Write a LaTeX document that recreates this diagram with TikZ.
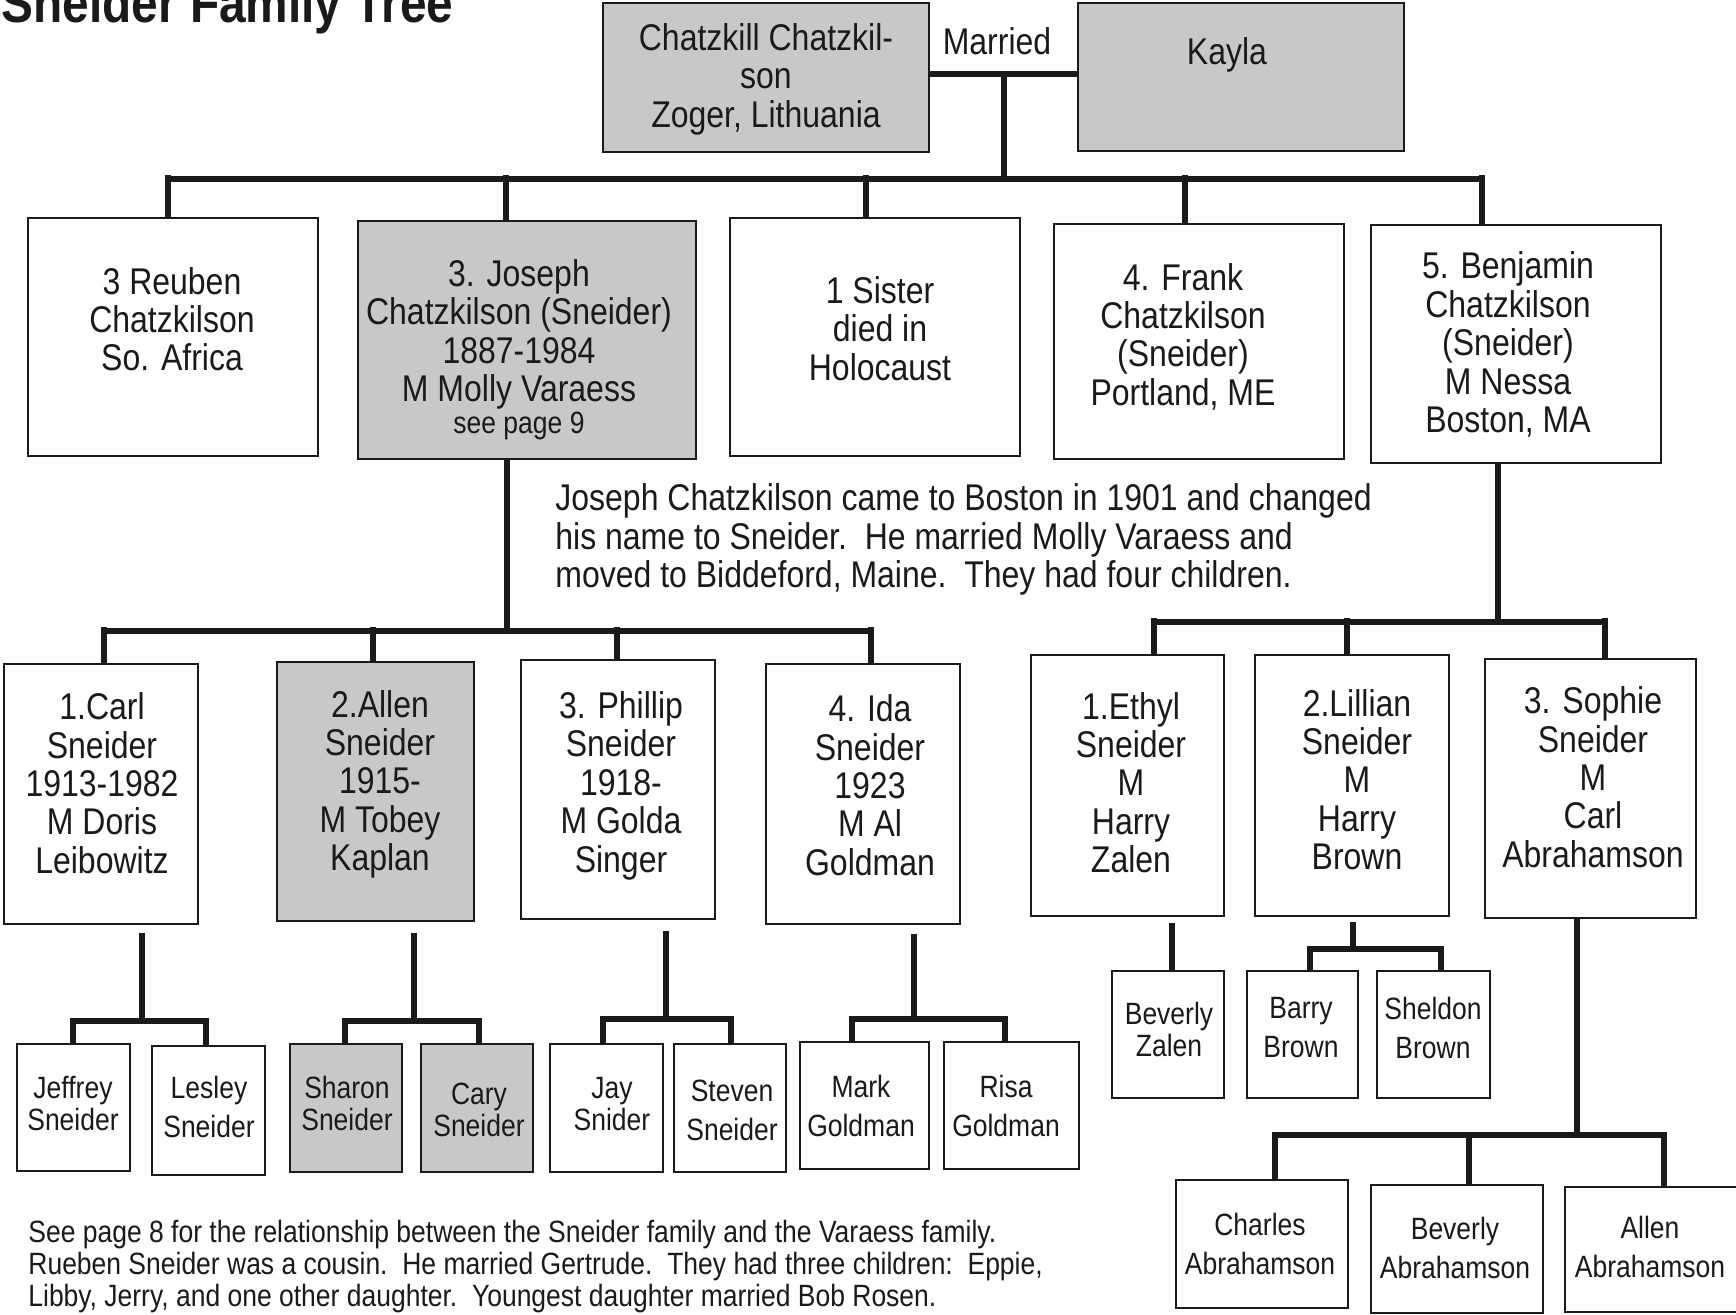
\documentclass[tikz,border=0pt]{standalone}
\usepackage{fontspec}
\setmainfont{Liberation Sans}[FakeStretch=0.86]
\usetikzlibrary{fit}

\definecolor{boxgray}{RGB}{200,200,202}
\definecolor{ink}{RGB}{26,26,26}

\tikzset{
  pbox/.style={draw=ink, line width=1.3pt, fill=white, inner sep=0pt},
  gbox/.style={pbox, fill=boxgray},
  link/.style={draw=ink, line width=2.75pt},
  big/.style={inner sep=0pt, align=center, text=ink, yshift=-1.6pt,
              font=\fontsize{18.6pt}{19.2pt}\selectfont},
  small/.style={inner sep=0pt, align=center, text=ink, yshift=-1.6pt,
              font=\fontsize{15.4pt}{16pt}\selectfont},
  smallw/.style={small, font=\fontsize{15.4pt}{19.3pt}\selectfont},
}

% a drop line from a bar coordinate down to the top of a box
\newcommand\famdrop[2]{\draw[link] ([yshift=2pt]#1) -- (#1 |- #2.north);}

\begin{document}
\begin{tikzpicture}[x=0.5pt, y=-0.5pt]
\useasboundingbox (0,0) rectangle (1736,1315);
\clip (0,0) rectangle (1736,1315);

% title
\node[anchor=base west, inner sep=0pt, text=ink,
      font=\fontsize{27.8pt}{30pt}\selectfont\bfseries] (title) at (1,23) {Sneider Family Tree};

% ---------- parents ----------
\node[gbox, fit={(603,3) (929,152)}] (chatz) {};
\node[gbox, fit={(1078,3) (1404,151)}] (kayla) {};
\node[big] (chatzT) at (766,76) {Chatzkill Chatzkil-\\son\\Zoger, Lithuania};
\node[big] (kaylaT) at (1227,52) {Kayla};
\node[big] (married) at (997,38) {Married};

% ---------- children ----------
\node[pbox, fit={(28,218) (318,456)}] (reuben) {};
\node[gbox, fit={(358,221) (696,459)}] (joseph) {};
\node[pbox, fit={(730,218) (1020,456)}] (sister) {};
\node[pbox, fit={(1054,224) (1344,459)}] (frank) {};
\node[pbox, fit={(1371,225) (1661,463)}] (benjamin) {};

\node[big] (reubenT) at (172,316) {3 Reuben\\Chatzkilson\\So. Africa};
\node[big] (josephT) at (519,331) {3. Joseph\\Chatzkilson (Sneider)\\1887-1984\\M Molly Varaess};
\node[small] (josephN) at (519,423) {see page 9};
\node[big] (sisterT) at (880,325.5) {1 Sister\\died in\\Holocaust};
\node[big] (frankT) at (1183,333.5) {4. Frank\\Chatzkilson\\(Sneider)\\Portland, ME};
\node[big] (benjaminT) at (1508,341.5) {5. Benjamin\\Chatzkilson\\(Sneider)\\M Nessa\\Boston, MA};

% ---------- grandchildren ----------
\node[pbox, fit={(4,664) (198,924)}] (carl) {};
\node[gbox, fit={(277,662) (474,921)}] (allen) {};
\node[pbox, fit={(521,660) (715,919)}] (phillip) {};
\node[pbox, fit={(766,664) (960,924)}] (ida) {};
\node[pbox, fit={(1031,655) (1224,916)}] (ethyl) {};
\node[pbox, fit={(1255,655) (1449,916)}] (lillian) {};
\node[pbox, fit={(1485,659) (1696,918)}] (sophie) {};

\node[big] (carlT) at (102,780) {1.Carl\\Sneider\\1913-1982\\M Doris\\Leibowitz};
\node[big] (allenT) at (380,781) {2.Allen\\Sneider\\1915-\\M Tobey\\Kaplan};
\node[big] (phillipT) at (621,782.5) {3. Phillip\\Sneider\\1918-\\M Golda\\Singer};
\node[big] (idaT) at (870,782) {4. Ida\\Sneider\\1923\\M Al\\Goldman};
\node[big] (ethylT) at (1131,779.5) {1.Ethyl\\Sneider\\M\\Harry\\Zalen};
\node[big] (lillianT) at (1357,776.5) {2.Lillian\\Sneider\\M\\Harry\\Brown};
\node[big] (sophieT) at (1593,774) {3. Sophie\\Sneider\\M\\Carl\\Abrahamson};

% ---------- great-grandchildren ----------
\node[pbox, fit={(17,1044) (130,1171)}] (jeffrey) {};
\node[pbox, fit={(152,1046) (265,1175)}] (lesley) {};
\node[gbox, fit={(290,1044) (402,1172)}] (sharon) {};
\node[gbox, fit={(421,1044) (533,1172)}] (cary) {};
\node[pbox, fit={(550,1044) (663,1172)}] (jay) {};
\node[pbox, fit={(674,1044) (786,1172)}] (steven) {};
\node[pbox, fit={(800,1042) (929,1169)}] (mark) {};
\node[pbox, fit={(944,1042) (1079,1169)}] (risa) {};
\node[pbox, fit={(1112,971) (1224,1098)}] (bevz) {};
\node[pbox, fit={(1247,971) (1358,1098)}] (barry) {};
\node[pbox, fit={(1377,971) (1490,1098)}] (sheldon) {};
\node[pbox, fit={(1176,1180) (1348,1308)}] (charles) {};
\node[pbox, fit={(1371,1185) (1543,1313)}] (beva) {};
\node[pbox, fit={(1565,1187) (1738,1312)}] (allena) {};

\node[small] (jeffreyT) at (73,1100.5) {Jeffrey\\Sneider};
\node[smallw] (lesleyT) at (209,1104) {Lesley\\Sneider};
\node[small] (sharonT) at (347,1100.5) {Sharon\\Sneider};
\node[small] (caryT) at (479,1106.5) {Cary\\Sneider};
\node[small] (jayT) at (612,1100.5) {Jay\\Snider};
\node[smallw] (stevenT) at (732,1107) {Steven\\Sneider};
\node[smallw] (markT) at (861,1102.5) {Mark\\Goldman};
\node[smallw] (risaT) at (1006,1102.5) {Risa\\Goldman};
\node[small] (bevzT) at (1169,1026) {Beverly\\Zalen};
\node[smallw] (barryT) at (1301,1024.5) {Barry\\Brown};
\node[smallw] (sheldonT) at (1433,1024.5) {Sheldon\\Brown};
\node[smallw] (charlesT) at (1260,1240.5) {Charles\\Abrahamson};
\node[smallw] (bevaT) at (1455,1245) {Beverly\\Abrahamson};
\node[smallw] (allenaT) at (1650,1243.5) {Allen\\Abrahamson};

% ---------- notes ----------
\node[big, align=left, anchor=west] (story) at (555,536.5)
  {Joseph Chatzkilson came to Boston in 1901 and changed\\
   his name to Sneider.\ \ He married Molly Varaess and\\
   moved to Biddeford, Maine.\ \ They had four children.};
\node[small, align=left, anchor=west] (note) at (28,1263)
  {See page 8 for the relationship between the Sneider family and the Varaess family.\\
   Rueben Sneider was a cousin.\ \ He married Gertrude.\ \ They had three children:\ \ Eppie,\\
   Libby, Jerry, and one other daughter.\ \ Youngest daughter married Bob Rosen.};

% ---------- connectors ----------
% marriage and the children's bar
\coordinate (wed) at (1004,74);
\coordinate (sib) at (1004,179);
\draw[link] (chatz.east |- wed) -- (kayla.west |- wed);
\draw[link] (wed) -- (sib);
\coordinate (d1) at (168,179);
\coordinate (d2) at (506,179);
\coordinate (d3) at (866,179);
\coordinate (d4) at (1185,179);
\coordinate (d5) at (1482,179);
\draw[link] (d1) -- (d5);
\famdrop{d1}{reuben}
\famdrop{d2}{joseph}
\famdrop{d3}{sister}
\famdrop{d4}{frank}
\famdrop{d5}{benjamin}

% Joseph's children
\coordinate (jb) at (507,631);
\draw[link] (joseph.south -| jb) -- (jb);
\coordinate (c1) at (104,631);
\coordinate (c2) at (373,631);
\coordinate (c3) at (617,631);
\coordinate (c4) at (871,631);
\draw[link] (c1) -- (c4);
\famdrop{c1}{carl}
\famdrop{c2}{allen}
\famdrop{c3}{phillip}
\famdrop{c4}{ida}

% Benjamin's children
\coordinate (bb) at (1498,622);
\draw[link] (benjamin.south -| bb) -- (bb);
\coordinate (e1) at (1154,622);
\coordinate (e2) at (1347,622);
\coordinate (e3) at (1605,622);
\draw[link] (e1) -- (e3);
\famdrop{e1}{ethyl}
\famdrop{e2}{lillian}
\famdrop{e3}{sophie}

% Carl's children
\coordinate (fs) at (142,1021);
\coordinate (f1) at (73,1021);
\coordinate (f2) at (206,1021);
\draw[link] ([yshift=-4pt]carl.south -| fs) -- (fs);
\draw[link] (f1 |- jeffrey.north) -- (f1) -- (f2) -- (f2 |- lesley.north);

% Allen's children
\coordinate (gs) at (414,1021);
\coordinate (g1) at (345,1021);
\coordinate (g2) at (479,1021);
\draw[link] ([yshift=-5.5pt]allen.south -| gs) -- (gs);
\draw[link] (g1 |- sharon.north) -- (g1) -- (g2) -- (g2 |- cary.north);

% Phillip's children
\coordinate (hs) at (666,1019);
\coordinate (h1) at (603,1019);
\coordinate (h2) at (731,1019);
\draw[link] ([yshift=-5.5pt]phillip.south -| hs) -- (hs);
\draw[link] (h1 |- jay.north) -- (h1) -- (h2) -- (h2 |- steven.north);

% Ida's children
\coordinate (is) at (914,1019);
\coordinate (i1) at (852,1019);
\coordinate (i2) at (1005,1019);
\draw[link] ([yshift=-4.5pt]ida.south -| is) -- (is);
\draw[link] (i1 |- mark.north) -- (i1) -- (i2) -- (i2 |- risa.north);

% Ethyl's child
\coordinate (es) at (1172,921);
\draw[link] ([yshift=-1pt]es) -- (es |- bevz.north);

% Lillian's children
\coordinate (ls) at (1353,949);
\coordinate (l1) at (1310,949);
\coordinate (l2) at (1441,949);
\draw[link] ([yshift=-2.5pt]lillian.south -| ls) -- (ls);
\draw[link] (l1 |- barry.north) -- (l1) -- (l2) -- (l2 |- sheldon.north);

% Sophie's children
\coordinate (ss) at (1577,1135);
\coordinate (k1) at (1275,1135);
\coordinate (k2) at (1469,1135);
\coordinate (k3) at (1664,1135);
\draw[link] (sophie.south -| ss) -- (ss);
\draw[link] (k1 |- charles.north) -- (k1) -- (k3) -- (k3 |- allena.north);
\draw[link] (k2) -- (k2 |- beva.north);

\end{tikzpicture}
\end{document}
